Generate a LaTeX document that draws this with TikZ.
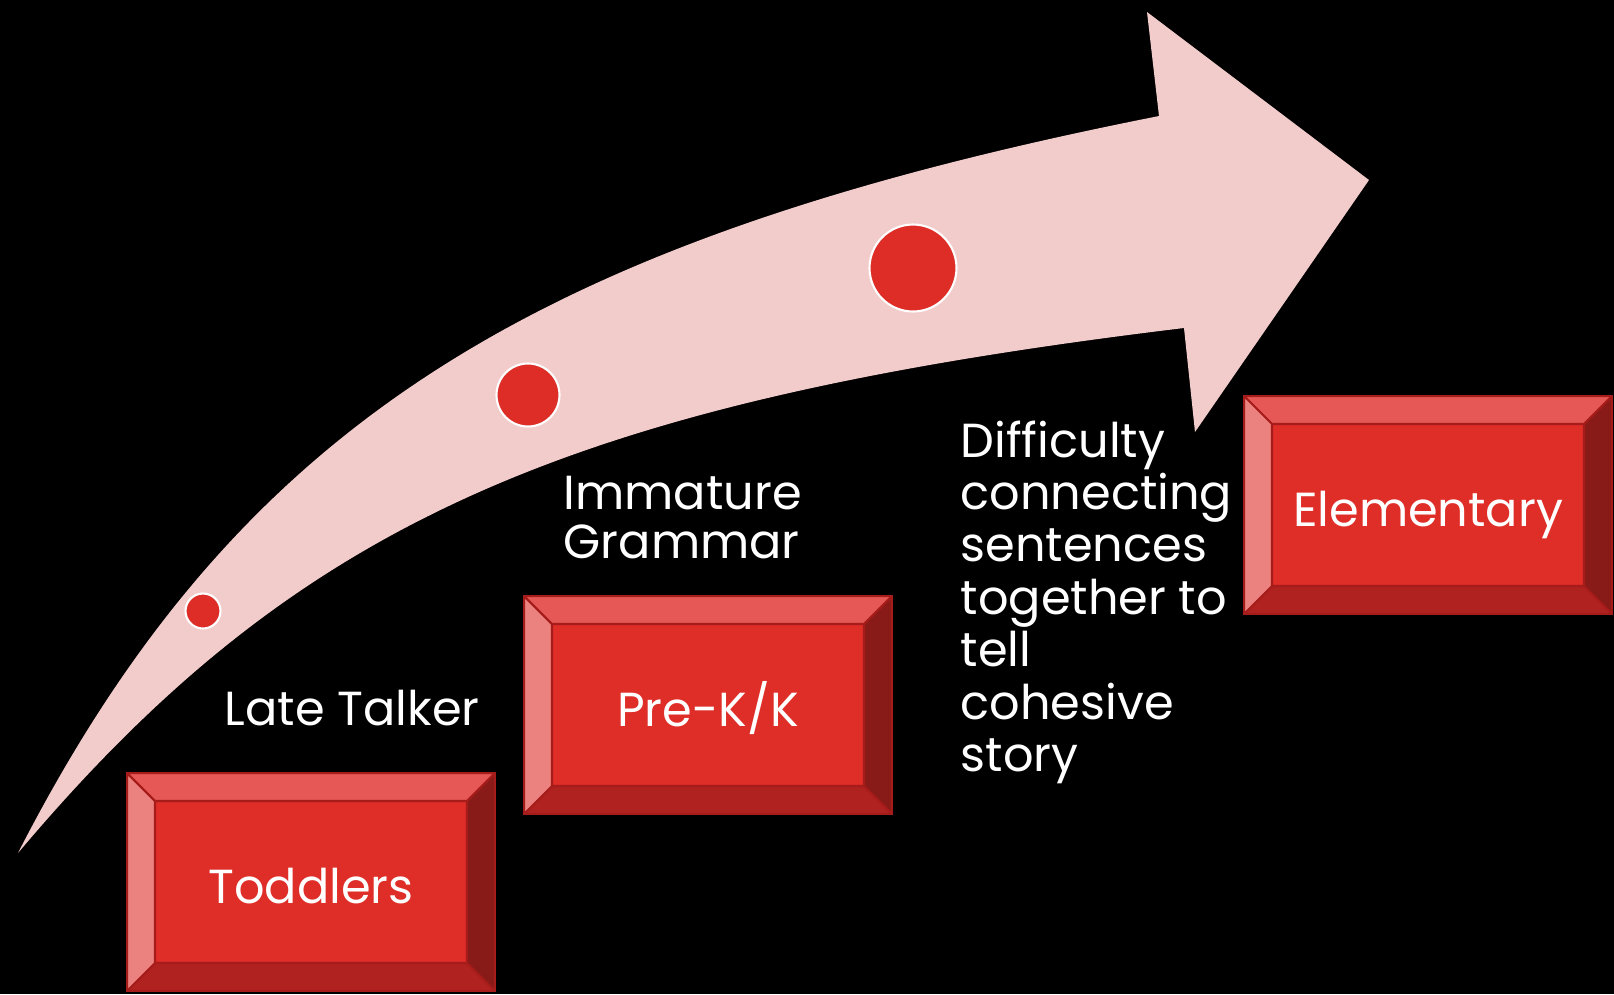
\documentclass[tikz,border=0pt]{standalone}
\usepackage{fontspec}
\setmainfont{Poppins}
\definecolor{arrowpink}{RGB}{242,203,203}
\definecolor{dotred}{RGB}{222,45,39}
\definecolor{boxface}{RGB}{223,45,40}
\definecolor{bevtop}{RGB}{229,88,85}
\definecolor{bevleft}{RGB}{235,130,127}
\definecolor{bevright}{RGB}{136,27,24}
\definecolor{bevbottom}{RGB}{176,34,32}
\definecolor{boxedge}{RGB}{165,28,26}
\newcommand{\labelfont}{\fontsize{13.6}{14.2}\selectfont}
\newcommand{\bevel}{2.8mm}
\tikzset{
  lbl/.style={text=white, font=\labelfont, inner sep=0pt},
  dot/.style={circle, fill=dotred, draw=white, line width=0.6pt, inner sep=0pt},
  bevelbox/.style={draw=boxedge, line width=0.7pt, fill=boxface,
    minimum width=36.8mm, minimum height=21.8mm, inner sep=0pt,
    text height=4.2mm, text depth=0mm,
    text=white, font=\labelfont,
    path picture={
      \path (path picture bounding box.north west) coordinate (bnw)
            (path picture bounding box.north east) coordinate (bne)
            (path picture bounding box.south east) coordinate (bse)
            (path picture bounding box.south west) coordinate (bsw);
      \path ([shift={(\bevel,-\bevel)}]bnw) coordinate (inw)
            ([shift={(-\bevel,-\bevel)}]bne) coordinate (ine)
            ([shift={(-\bevel,\bevel)}]bse) coordinate (ise)
            ([shift={(\bevel,\bevel)}]bsw) coordinate (isw);
      \filldraw[fill=bevtop, draw=boxedge, line width=0.6pt] (bnw) -- (bne) -- (ine) -- (inw) -- cycle;
      \filldraw[fill=bevright, draw=boxedge, line width=0.6pt] (bne) -- (bse) -- (ise) -- (ine) -- cycle;
      \filldraw[fill=bevbottom, draw=boxedge, line width=0.6pt] (bse) -- (bsw) -- (isw) -- (ise) -- cycle;
      \filldraw[fill=bevleft, draw=boxedge, line width=0.6pt] (bsw) -- (bnw) -- (inw) -- (isw) -- cycle;
    }}
}
\begin{document}
\begin{tikzpicture}[x=0.1mm,y=-0.1mm]
\fill[black] (0,0) rectangle (1614,994);
% curved arrow
\fill[arrowpink] (18,853) .. controls (240,420) and (538,239) .. (1159,116)
  -- (1147,12) -- (1369,180) -- (1195,432) -- (1184,328)
  .. controls (564,403) and (296,523) .. (18,853) -- cycle;
\foreach \i/\x/\y/\d in {1/203/611/3.5mm, 2/528/395/6.3mm, 3/913/268/8.7mm}
{
	\node[dot, minimum size=\d] (dot\i) at (\x,\y) {};
}
\node[bevelbox] (toddlers) at (311,882) {Toddlers};
\node[bevelbox] (prek) at (708,705) {Pre-K/K};
\node[bevelbox] (elementary) at (1428,505) {Elementary};
\node[lbl, anchor=base west] (late) at (224,725) {Late Talker};
\node[lbl, anchor=north west, align=left] (immature) at (563,475) {Immature\\Grammar};
\node[lbl, anchor=north west, align=left, font=\fontsize{13.6}{14.9}\selectfont] (difficulty) at (960,420) {Difficulty\\connecting\\sentences\\together to\\tell\\cohesive\\story};
\end{tikzpicture}
\end{document}
